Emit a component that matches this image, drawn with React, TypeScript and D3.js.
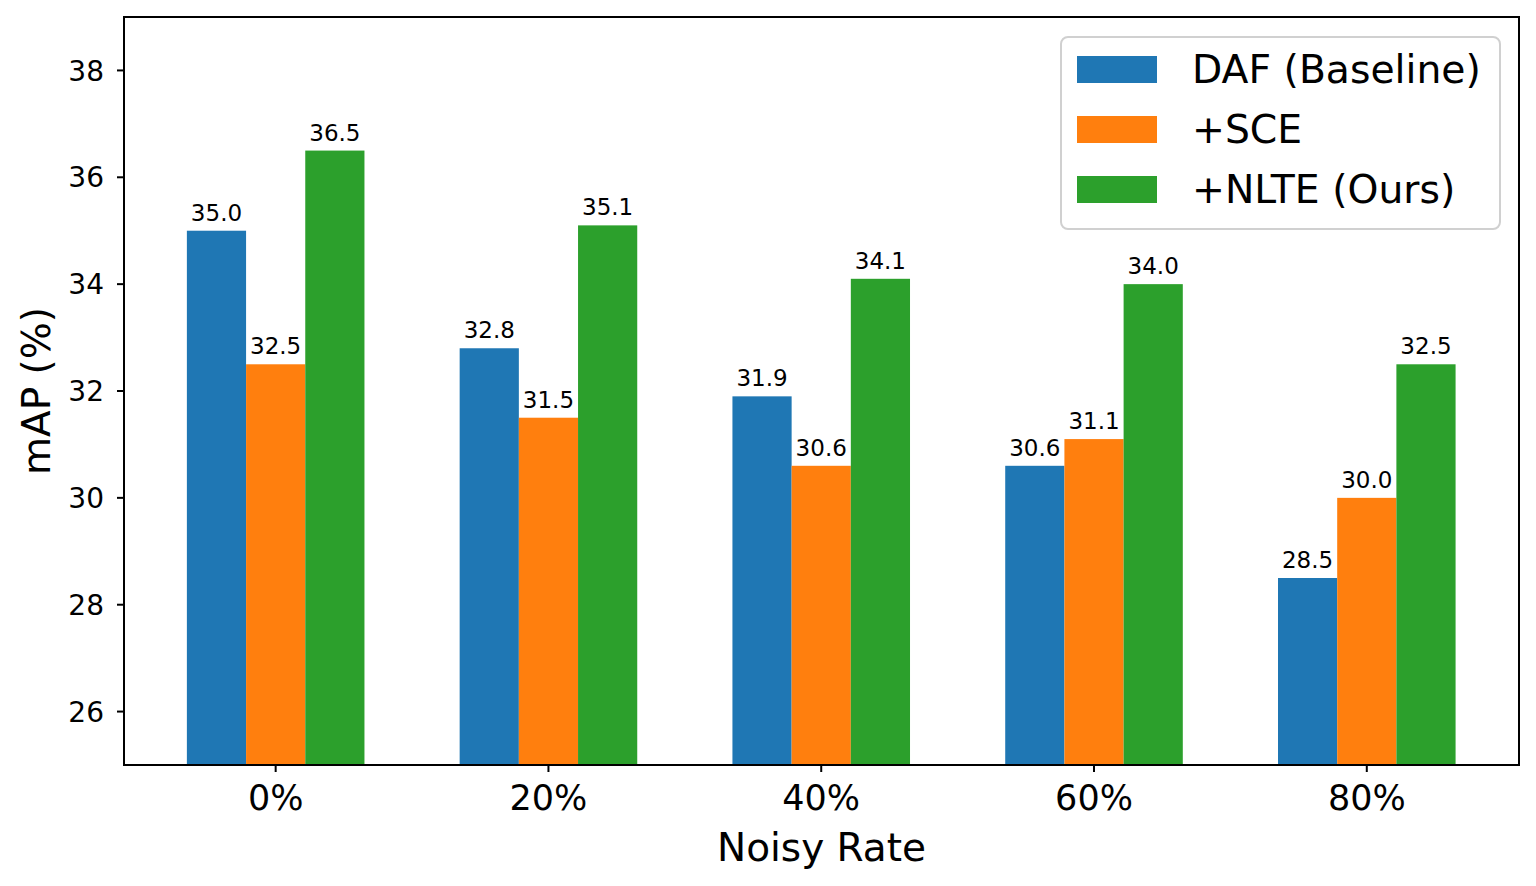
import React from "react";
import * as d3 from "d3";

const categories = ["0%", "20%", "40%", "60%", "80%"];
const seriesNames = ["DAF (Baseline)", "+SCE", "+NLTE (Ours)"];
const dafValues = [35.0, 32.8, 31.9, 30.6, 28.5];
const sceValues = [32.5, 31.5, 30.6, 31.1, 30.0];
const nlteValues = [36.5, 35.1, 34.1, 34.0, 32.5];
const yTicks = [26, 28, 30, 32, 34, 36, 38];
const colors = ["#1f77b4", "#ff7f0e", "#2ca02c"];

const W = 1536;
const H = 886;
const left = 124;
const right = 1519;
const top = 17;
const bottom = 765;
const font = "'DejaVu Sans', sans-serif";

export default function App() {
  const series = [dafValues, sceValues, nlteValues];
  const x = d3.scaleLinear().domain([-0.556, 4.558]).range([left, right]);
  const y = d3.scaleLinear().domain([25, 39]).range([bottom, top]);
  const bw = 0.217;
  const pxW = x(bw) - x(0);

  return (
    <svg
      width={W}
      height={H}
      style={{ position: "absolute", left: 0, top: 0, background: "#fff" }}
      fontFamily={font}
    >
      <rect x={0} y={0} width={W} height={H} fill="#fff" />
      {series.map((vals, si) =>
        vals.map((v, ci) => {
          const cx = x(ci + (si - 1) * bw);
          return (
            <g key={`b-${si}-${ci}`}>
              <rect
                x={cx - pxW / 2}
                y={y(v)}
                width={pxW}
                height={bottom - y(v)}
                fill={colors[si]}
              />
              <text
                x={cx}
                y={y(v) - 10}
                textAnchor="middle"
                fontSize={23}
                fill="#000"
              >
                {v.toFixed(1)}
              </text>
            </g>
          );
        })
      )}
      {/* frame */}
      <rect
        x={left}
        y={top}
        width={right - left}
        height={bottom - top}
        fill="none"
        stroke="#000"
        strokeWidth={2}
      />
      {/* y ticks */}
      {yTicks.map((t) => (
        <g key={`yt-${t}`}>
          <line x1={left - 7} x2={left} y1={y(t)} y2={y(t)} stroke="#000" strokeWidth={2} />
          <text
            x={104}
            y={y(t)}
            dy="0.36em"
            textAnchor="end"
            fontSize={28}
            fill="#000"
          >
            {t}
          </text>
        </g>
      ))}
      {/* x ticks */}
      {categories.map((c, i) => (
        <g key={`xt-${c}`}>
          <line x1={x(i)} x2={x(i)} y1={bottom} y2={bottom + 7} stroke="#000" strokeWidth={2} />
          <text x={x(i)} y={810} textAnchor="middle" fontSize={35} fill="#000">
            {c}
          </text>
        </g>
      ))}
      <text x={(left + right) / 2} y={861} textAnchor="middle" fontSize={39} fill="#000">
        Noisy Rate
      </text>
      <text
        transform={`translate(50, ${(top + bottom) / 2}) rotate(-90)`}
        textAnchor="middle"
        fontSize={39}
        fill="#000"
      >
        mAP (%)
      </text>
      {/* legend */}
      <rect
        x={1061}
        y={37}
        width={439}
        height={192}
        rx={7}
        ry={7}
        fill="#fff"
        fillOpacity={0.8}
        stroke="#d0d0d0"
        strokeWidth={2}
      />
      {seriesNames.map((n, i) => (
        <g key={`lg-${i}`}>
          <rect x={1077} y={56 + i * 60} width={80} height={27} fill={colors[i]} />
          <text x={1192} y={83 + i * 60} fontSize={39.3} fill="#000">
            {n}
          </text>
        </g>
      ))}
    </svg>
  );
}
